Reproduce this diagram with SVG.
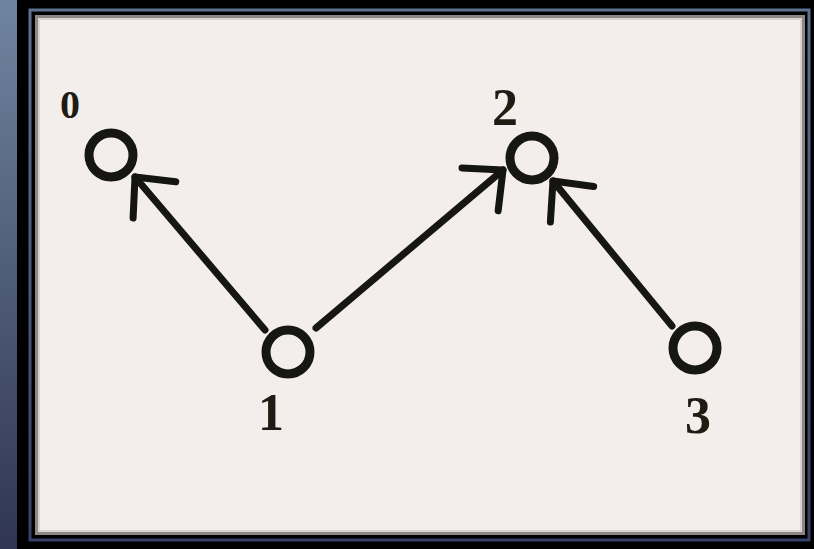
<svg xmlns="http://www.w3.org/2000/svg" width="814" height="549" viewBox="0 0 814 549">
<defs>
<linearGradient id="side" x1="0" y1="0" x2="0" y2="1">
<stop offset="0" stop-color="#6f84a0"/>
<stop offset="1" stop-color="#2f3552"/>
</linearGradient>
<linearGradient id="frame" x1="0" y1="0" x2="0" y2="1">
<stop offset="0" stop-color="#5d7290"/>
<stop offset="1" stop-color="#36406a"/>
</linearGradient>
<marker id="head" markerUnits="userSpaceOnUse" markerWidth="80" markerHeight="80" refX="0" refY="0" viewBox="-45 -40 50 80" orient="auto" overflow="visible">
<path d="M -30 -28 L 0 0 L -30 28" fill="none" stroke="#141410" stroke-width="7" stroke-linecap="round" stroke-linejoin="round"/>
</marker>
</defs>
<style>
.node circle{fill:none;stroke:#161612;stroke-width:9}
.lbl{font-family:"Liberation Serif","Times New Roman",serif;font-weight:bold;fill:#1e1c12;text-anchor:middle}
.edge{fill:none;stroke:#161612;stroke-width:7;stroke-linecap:round;marker-end:url(#head)}
</style>
<rect x="0" y="0" width="814" height="549" fill="#000"/>
<rect x="0" y="0" width="17" height="549" fill="url(#side)"/>
<rect x="30" y="10" width="779" height="530" fill="none" stroke="url(#frame)" stroke-width="3"/>
<rect x="35" y="15" width="770" height="520" fill="#f3eeec"/>
<rect x="36.5" y="16.5" width="767" height="517" fill="none" stroke="#8c8684" stroke-width="3"/>
<rect x="39" y="19" width="762" height="512" fill="none" stroke="#d8d2d0" stroke-width="2"/>
<g id="edges">
<line class="edge" x1="265" y1="330" x2="135" y2="177"/>
<line class="edge" x1="316" y1="328" x2="503" y2="170"/>
<line class="edge" x1="672" y1="326" x2="553" y2="181"/>
</g>
<g id="node0" class="node">
<circle cx="111" cy="155" r="22"/>
<text class="lbl" x="70" y="118" font-size="40">0</text>
</g>
<g id="node1" class="node">
<circle cx="288" cy="352" r="22"/>
<text class="lbl" x="271" y="430" font-size="52">1</text>
</g>
<g id="node2" class="node">
<circle cx="532" cy="158" r="22"/>
<text class="lbl" x="505" y="125" font-size="52">2</text>
</g>
<g id="node3" class="node">
<circle cx="695" cy="348" r="22"/>
<text class="lbl" x="698" y="433" font-size="52">3</text>
</g>
</svg>
